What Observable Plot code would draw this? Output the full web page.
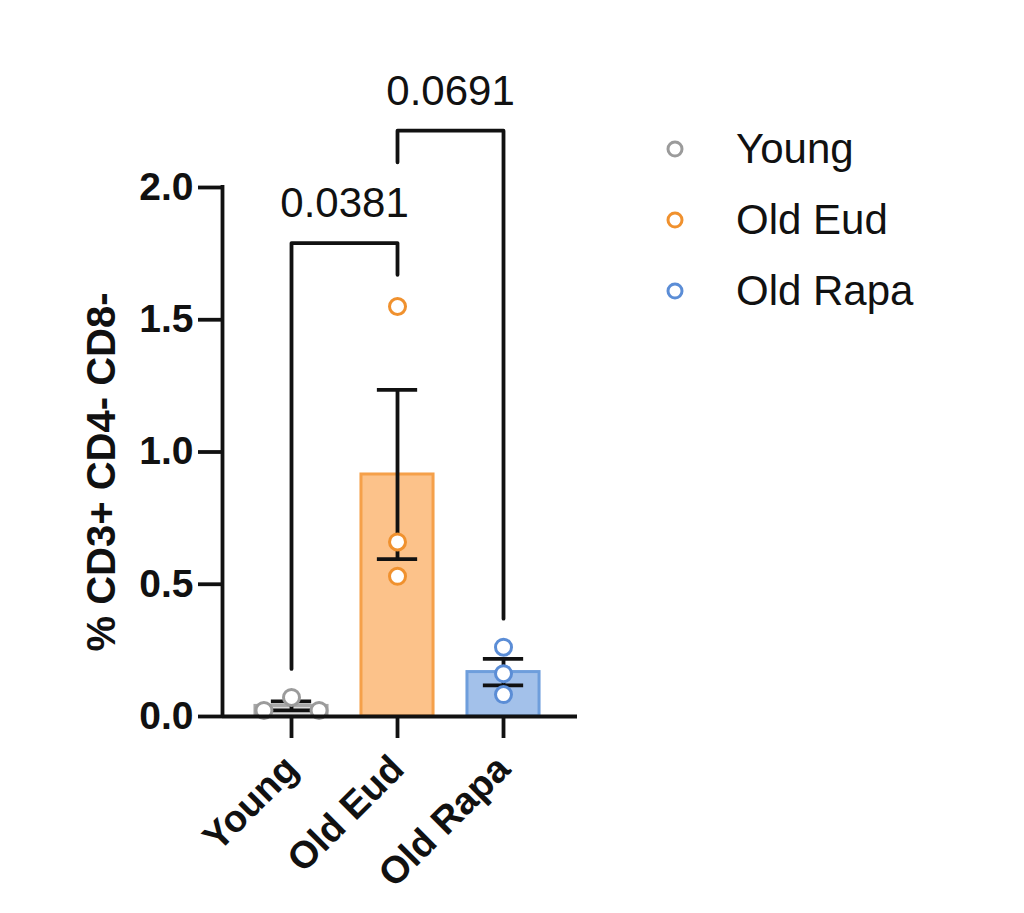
<!DOCTYPE html>
<html>
<head>
<meta charset="utf-8">
<script src="https://cdn.jsdelivr.net/npm/d3@7"></script>
<script src="https://cdn.jsdelivr.net/npm/@observablehq/plot@0.6"></script>
<style>
  html, body { margin: 0; padding: 0; background: #fff; }
  #wrap { position: relative; width: 1024px; height: 913px; font-family: "Liberation Sans", Arial, sans-serif; }
  #legend { position: absolute; left: 660px; top: 113px; }
  .item { display: flex; align-items: center; height: 71px; font-size: 42px; color: #111; }
  .item svg { margin-right: 46px; }
</style>
</head>
<body>
<div id="wrap">
  <div id="chart"></div>
  <div id="legend"></div>
</div>
<script>
// ---- data ----
const categories = ["Young", "Old Eud", "Old Rapa"];
const youngValues = [0.072, 0.023, 0.023];
const oldEudValues = [1.55, 0.66, 0.53];
const oldRapaValues = [0.262, 0.162, 0.083];
const means = [0.040, 0.915, 0.168];
const sems = [0.017, 0.320, 0.050];
const pLabels = ["0.0381", "0.0691"];
const bracketFrom = [0, 1];
const bracketTo = [1, 2];
const bracketTop = [1.79, 2.215];
const bracketLeftEnd = [0.18, 2.095];
const bracketRightEnd = [1.67, 0.37];
const yTicks = [0, 0.5, 1.0, 1.5, 2.0];
const yLabel = "% CD3+ CD4- CD8-";

// ---- styles ----
const pointStroke = ["#9b9b9b", "#f0912e", "#5b8dd6"];
const barFill = ["#dcdcdc", "#fcc28a", "#a3c1ea"];
const barStroke = ["#a8a8a8", "#f5a04a", "#6e9edc"];
const W = 640, H = 913, ML = 222, MR = 63, MT = 187, MB = 197;
const xDomain = [-0.651, 2.698];
const yDomain = [0, 2];
const barHalf = 0.34, capHalf = 0.19, spread = 0.26, R = 8, SW = 3.8;

// ---- derived tables ----
const groupValues = [youngValues, oldEudValues, oldRapaValues];
const pxX = (W - ML - MR) / (xDomain[1] - xDomain[0]);
const pxY = (H - MT - MB) / (yDomain[1] - yDomain[0]);
const points = [];
groupValues.forEach((vals, i) => {
  const placed = [];
  [...vals].sort((a, b) => b - a).forEach(v => {
    const cands = [0, -spread, spread, -2 * spread, 2 * spread];
    const o = cands.find(c => placed.every(p => Math.hypot((c - p.o) * pxX, (v - p.v) * pxY) >= 2 * R + 3)) ?? 0;
    placed.push({o, v});
    points.push({i, x: i + o, v});
  });
});
const bars = categories.map((c, i) => ({i, mean: means[i], lo: means[i] - sems[i], hi: means[i] + sems[i]}));
const bracketLines = [];
pLabels.forEach((lab, k) => {
  bracketLines.push({k, x: bracketFrom[k], y: bracketLeftEnd[k]});
  bracketLines.push({k, x: bracketFrom[k], y: bracketTop[k]});
  bracketLines.push({k, x: bracketTo[k], y: bracketTop[k]});
  bracketLines.push({k, x: bracketTo[k], y: bracketRightEnd[k]});
});
const bracketLabels = pLabels.map((lab, k) => ({lab, x: (bracketFrom[k] + bracketTo[k]) / 2, y: bracketTop[k]}));

const chart = Plot.plot({
  width: W, height: H,
  marginLeft: ML, marginRight: MR, marginTop: MT, marginBottom: MB,
  style: {fontFamily: "Liberation Sans, Arial, sans-serif", background: "white", color: "#111"},
  x: {domain: xDomain},
  y: {domain: yDomain},
  marks: [
    Plot.rectY(bars, {x1: d => d.i - barHalf, x2: d => d.i + barHalf, y1: 0, y2: "mean",
      fill: d => barFill[d.i], stroke: d => barStroke[d.i], strokeWidth: 3}),
    Plot.ruleX(bars, {x: "i", y1: "lo", y2: "hi", stroke: "#111", strokeWidth: SW}),
    Plot.ruleY(bars, {y: "hi", x1: d => d.i - capHalf, x2: d => d.i + capHalf, stroke: "#111", strokeWidth: SW}),
    Plot.ruleY(bars, {y: "lo", x1: d => d.i - capHalf, x2: d => d.i + capHalf, stroke: "#111", strokeWidth: SW}),
    Plot.dot(points, {x: "x", y: "v", r: R, fill: "white", stroke: d => pointStroke[d.i], strokeWidth: 3}),
    Plot.line(bracketLines, {x: "x", y: "y", z: "k", stroke: "#111", strokeWidth: SW, curve: "linear"}),
    Plot.text(bracketLabels, {x: "x", y: "y", text: "lab", lineAnchor: "bottom", dy: -26, fontSize: 42, fill: "#111"}),
    Plot.ruleY([0], {stroke: "#111", strokeWidth: SW}),
    Plot.ruleX([xDomain[0]], {y1: yDomain[0], y2: yDomain[1], stroke: "#111", strokeWidth: SW, strokeLinecap: "square"}),
    Plot.axisY({ticks: yTicks, tickFormat: d3.format(".1f"), tickSize: 24, tickPadding: 5, fontSize: 39, fontWeight: "bold",
      strokeWidth: SW, label: null}),
    Plot.text([yLabel], {frameAnchor: "left", textAnchor: "middle", lineAnchor: "middle", dx: -120, dy: 20, rotate: -90,
      fontSize: 40, fontWeight: "bold", fill: "#111"}),
    Plot.axisX({ticks: [0, 1, 2], tickFormat: i => categories[i], tickRotate: -45, tickSize: 22, tickPadding: 24,
      fontSize: 38, fontWeight: "bold", strokeWidth: SW, label: null})
  ]
});
document.getElementById("chart").appendChild(chart);

// ---- legend ----
const legend = document.getElementById("legend");
categories.forEach((c, i) => {
  const row = document.createElement("div");
  row.className = "item";
  row.innerHTML = `<svg width="30" height="30"><circle cx="15" cy="15" r="7" fill="white" stroke="${pointStroke[i]}" stroke-width="3"/></svg><span>${c}</span>`;
  legend.appendChild(row);
});
</script>
</body>
</html>
